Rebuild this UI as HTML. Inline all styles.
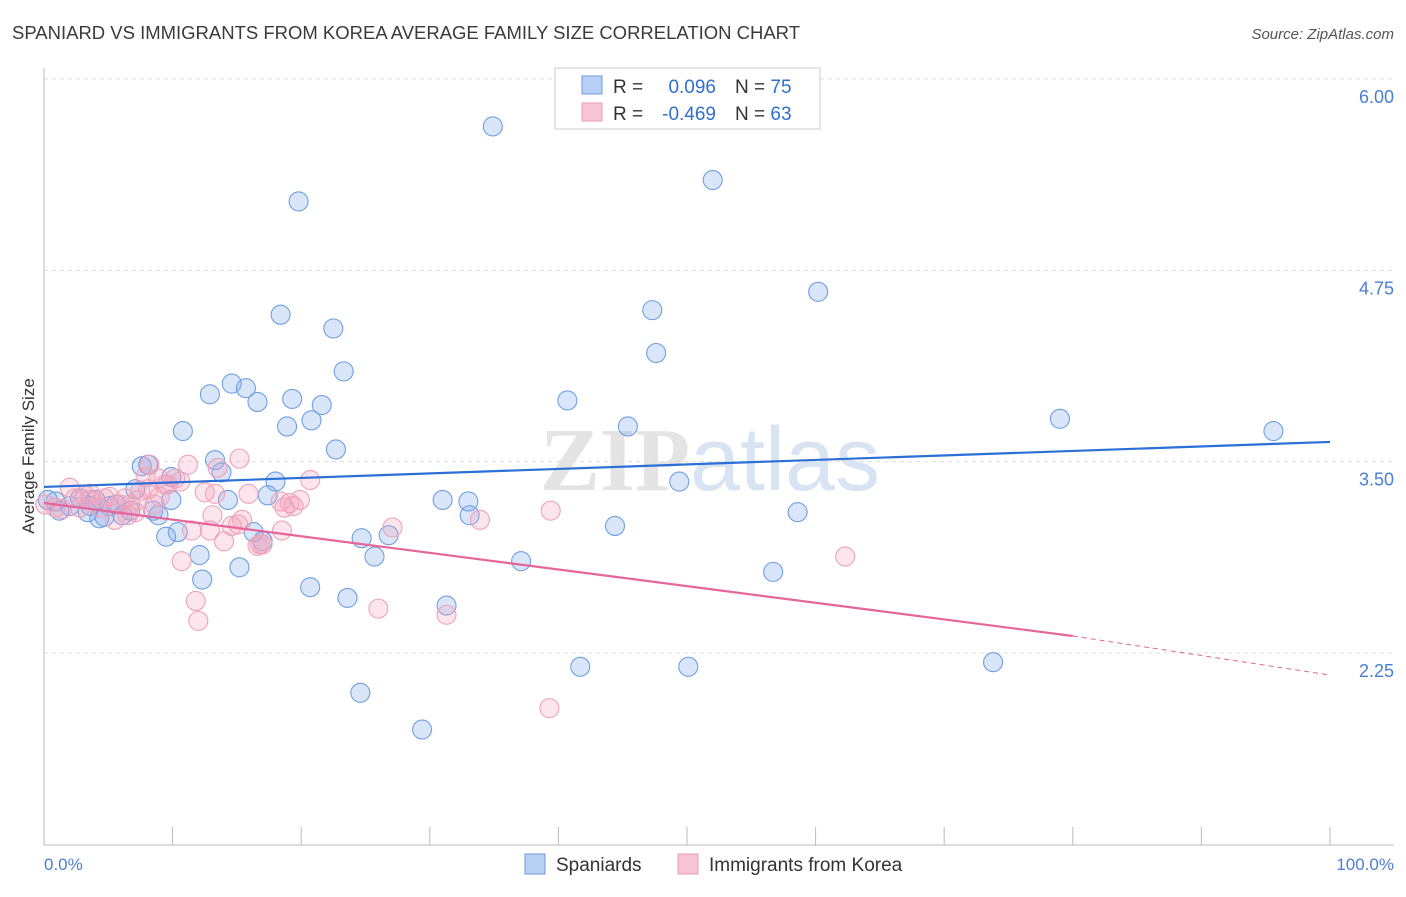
<!DOCTYPE html>
<html><head><meta charset="utf-8"><style>
body{margin:0;background:#fff;font-family:"Liberation Sans",sans-serif;}
svg text{font-family:"Liberation Sans",sans-serif;}
</style></head><body>
<svg id="chart" width="1406" height="892" xmlns="http://www.w3.org/2000/svg">
<text x="12" y="39" font-size="18" fill="#3a3a3a" textLength="788" lengthAdjust="spacingAndGlyphs">SPANIARD VS IMMIGRANTS FROM KOREA AVERAGE FAMILY SIZE CORRELATION CHART</text>
<text x="1394" y="39" font-size="15" fill="#555" text-anchor="end" font-style="italic">Source: ZipAtlas.com</text>
<text x="710" y="490" font-size="90" text-anchor="middle" fill="#e4e4e4"><tspan font-family="Liberation Serif" font-weight="bold">ZIP</tspan><tspan fill="#d8e4f3">atlas</tspan></text>
<g id="grid"></g><g id="axes"></g><g id="pts"></g><g id="lines"></g>
<text transform="translate(34,456) rotate(-90)" font-size="17" fill="#333" text-anchor="middle">Average Family Size</text>
<text x="44" y="870" font-size="17" fill="#4a7fd4">0.0%</text>
<text x="1394" y="870" font-size="17" fill="#4a7fd4" text-anchor="end">100.0%</text>
<g>
<rect x="555" y="68" width="265" height="61" fill="#fff" stroke="#ccc"/>
<rect x="582" y="76" width="20" height="18" fill="#b8d0f4" stroke="#6c9be0"/>
<rect x="582" y="103" width="20" height="18" fill="#f9c6d5" stroke="#eb9ab3"/>
<text x="613" y="93" font-size="19" fill="#333">R =</text>
<text x="716" y="93" font-size="19" fill="#2f6fd0" text-anchor="end">0.096</text>
<text x="735" y="93" font-size="19" fill="#333">N = <tspan fill="#2f6fd0">75</tspan></text>
<text x="613" y="120" font-size="19" fill="#333">R =</text>
<text x="716" y="120" font-size="19" fill="#2f6fd0" text-anchor="end">-0.469</text>
<text x="735" y="120" font-size="19" fill="#333">N = <tspan fill="#2f6fd0">63</tspan></text>
</g>
<g>
<rect x="525" y="854" width="20" height="20" fill="#b8d0f4" stroke="#6c9be0"/>
<text x="556" y="871" font-size="19" fill="#333">Spaniards</text>
<rect x="678" y="854" width="20" height="20" fill="#f9c6d5" stroke="#eb9ab3"/>
<text x="709" y="871" font-size="19" fill="#333">Immigrants from Korea</text>
</g>
</svg>
<script>
const yTicks=[2.25,3.5,4.75,6.0];
const yTickLabels=["2.25","3.50","4.75","6.00"];
const blueX=[34.9,52.0,19.8,60.2,18.4,47.3,22.5,47.6,23.3,14.6,15.7,12.9,40.7,19.3,16.6,21.6,20.8,18.9,45.4,79.0,95.6,10.8,22.7,13.3,7.6,8.1,13.8,18.0,9.9,49.4,31.0,33.0,14.3,17.4,9.9,7.1,0.9,2.0,2.8,4.0,3.6,5.1,6.1,4.3,4.7,8.5,8.9,33.1,58.6,44.4,10.4,9.5,16.3,17.0,24.7,26.8,12.1,25.7,15.2,37.1,12.3,56.7,20.7,23.6,31.3,41.7,50.1,73.8,24.6,29.4,0.3,1.2,6.7,5.6,3.4];
const blueY=[5.69,5.34,5.20,4.61,4.46,4.49,4.37,4.21,4.09,4.01,3.98,3.94,3.90,3.91,3.89,3.87,3.77,3.73,3.73,3.78,3.70,3.70,3.58,3.51,3.47,3.48,3.43,3.37,3.40,3.37,3.25,3.24,3.25,3.28,3.25,3.32,3.24,3.21,3.26,3.25,3.21,3.21,3.15,3.13,3.14,3.18,3.15,3.15,3.17,3.08,3.04,3.01,3.04,2.98,3.00,3.02,2.89,2.88,2.81,2.85,2.73,2.78,2.68,2.61,2.56,2.16,2.16,2.19,1.99,1.75,3.25,3.18,3.18,3.22,3.17];
const pinkX=[2.0,3.2,3.6,0.9,1.4,0.1,5.1,5.9,4.4,6.7,7.3,8.2,7.9,8.9,9.4,10.2,10.6,11.2,13.5,15.2,12.5,13.3,15.9,9.0,8.1,6.3,5.5,7.1,8.6,13.1,15.4,15.1,12.9,18.4,19.1,19.4,18.7,20.7,11.5,14.0,16.6,17.0,18.5,27.1,33.9,39.4,10.7,11.8,12.0,26.0,31.3,62.3,39.3,16.8,9.6,19.9,3.6,2.8,2.4,7.5,6.5,14.6,4.7];
const pinkY=[3.33,3.28,3.25,3.20,3.19,3.22,3.27,3.22,3.20,3.22,3.25,3.48,3.40,3.39,3.35,3.39,3.37,3.48,3.46,3.52,3.30,3.29,3.29,3.27,3.32,3.26,3.12,3.17,3.22,3.15,3.12,3.09,3.05,3.24,3.23,3.21,3.20,3.38,3.05,2.98,2.95,2.96,3.05,3.07,3.12,3.18,2.85,2.59,2.46,2.54,2.50,2.88,1.89,2.96,3.35,3.25,3.29,3.20,3.26,3.31,3.15,3.08,3.26];
const blueTrend=[3.335,3.629];
const pinkTrend=[3.23,2.361,2.106];
const NS="http://www.w3.org/2000/svg";
const L=44,R=1330,T=79,B=845;
function xs(v){return L+(R-L)*v/100;}
function ys(v){return 79+(6-v)*153.07;}
function mk(tag,attrs,parent){const e=document.createElementNS(NS,tag);for(const k in attrs)e.setAttribute(k,attrs[k]);document.getElementById(parent).appendChild(e);return e;}
yTicks.forEach((t,i)=>{
 const g=mk('line',{x1:L,x2:1394,y1:ys(t),y2:ys(t),stroke:'#ddd','stroke-dasharray':'4,4'},'grid');
 
 
 const tx=mk('text',{x:1394,y:ys(t)+24,'font-size':18,fill:'#4a7fd4','text-anchor':'end'},'grid');
 tx.textContent=yTickLabels[i];
 
 
});
const ax=mk('line',{x1:L,x2:L,y1:68,y2:B,stroke:'#bbb'},'axes');


const bx=mk('line',{x1:L,x2:1394,y1:B,y2:B,stroke:'#bbb'},'axes');


for(let i=0;i<=10;i++){
 const t=mk('line',{x1:xs(i*10),x2:xs(i*10),y1:B-18,y2:B,stroke:'#bbb'},'axes');
 
 
}
blueX.forEach((x,i)=>{
 const c=mk('circle',{cx:xs(x),cy:ys(blueY[i]),r:9.5,fill:'rgba(130,172,238,0.3)',stroke:'#6f9fe2','stroke-width':1.1},'pts');
 
 
});
pinkX.forEach((x,i)=>{
 const c=mk('circle',{cx:xs(x),cy:ys(pinkY[i]),r:9.5,fill:'rgba(244,160,186,0.28)',stroke:'#eea3ba','stroke-width':1.1},'pts');
 
 
});
const bl=mk('line',{x1:xs(0),y1:ys(blueTrend[0]),x2:xs(100),y2:ys(blueTrend[1]),stroke:'#2c6fd6','stroke-width':2.2},'lines');


const pl=mk('line',{x1:xs(0),y1:ys(pinkTrend[0]),x2:xs(80),y2:ys(pinkTrend[1]),stroke:'#e4669a','stroke-width':2.2},'lines');


const pd=mk('line',{x1:xs(80),y1:ys(pinkTrend[1]),x2:xs(100),y2:ys(pinkTrend[2]),stroke:'#e4669a','stroke-width':1,'stroke-dasharray':'5,4'},'lines');


</script>
</body></html>
